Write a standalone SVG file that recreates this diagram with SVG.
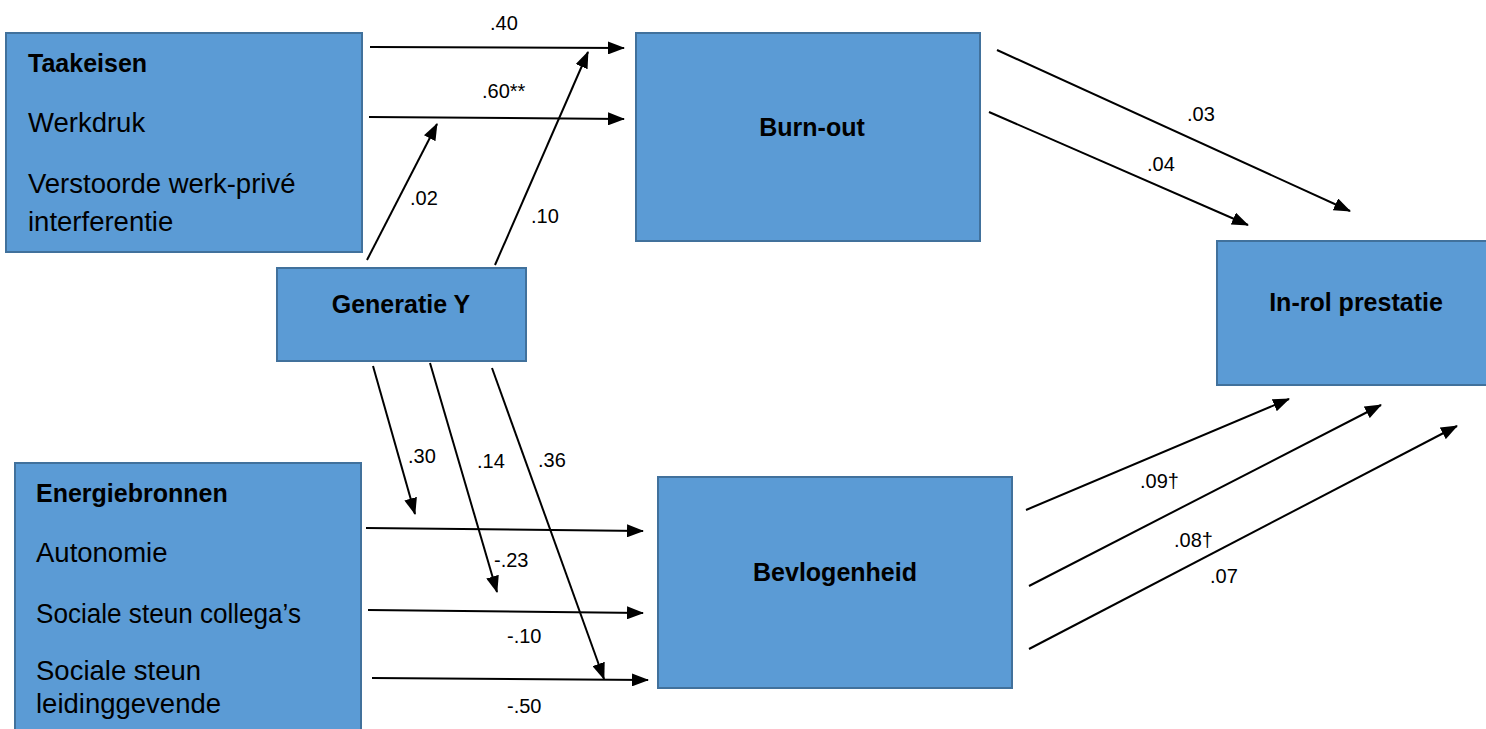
<svg xmlns="http://www.w3.org/2000/svg" width="1486" height="729" viewBox="0 0 1486 729">
<defs>
<style>
.box{fill:#5B9BD5;stroke:#41719C;stroke-width:2}
.t{font-family:"Liberation Sans",Arial,sans-serif;font-size:27.5px;fill:#000}
.b{font-family:"Liberation Sans",Arial,sans-serif;font-size:25px;font-weight:bold;fill:#000}
.c{text-anchor:middle}
.lbl{font-family:"Liberation Sans",Arial,sans-serif;font-size:20px;fill:#000}
.ar{stroke:#000;stroke-width:2;fill:none;marker-end:url(#ah)}
</style>
<marker id="ah" markerUnits="userSpaceOnUse" viewBox="0 0 17 13" refX="16" refY="6.5" markerWidth="17" markerHeight="13" orient="auto">
<path d="M0,0 L17,6.5 L0,13 z" fill="#000"/>
</marker>
</defs>
<rect width="1486" height="729" fill="#fff"/>
<g id="taakeisen">
<rect class="box" x="6" y="33" width="356" height="219"/>
<text class="b" x="28" y="72">Taakeisen</text>
<text class="t" x="28" y="132">Werkdruk</text>
<text class="t" x="28" y="193">Verstoorde werk-privé</text>
<text class="t" x="28" y="231">interferentie</text>
</g>
<g id="burnout">
<rect class="box" x="636" y="33" width="344" height="208"/>
<text class="b c" x="812" y="136">Burn-out</text>
</g>
<g id="generatieY">
<rect class="box" x="277" y="268" width="249" height="93"/>
<text class="b c" x="401" y="313">Generatie Y</text>
</g>
<g id="inrol">
<rect class="box" x="1217" y="241" width="290" height="144"/>
<text class="b c" x="1356" y="311">In-rol prestatie</text>
</g>
<g id="energiebronnen">
<rect class="box" x="15" y="463" width="346" height="290"/>
<text class="b" x="36" y="502">Energiebronnen</text>
<text class="t" x="36" y="562">Autonomie</text>
<text class="t" x="36" y="623" textLength="265" lengthAdjust="spacingAndGlyphs">Sociale steun collega’s</text>
<text class="t" x="36" y="680">Sociale steun</text>
<text class="t" x="36" y="713">leidinggevende</text>
</g>
<g id="bevlogenheid">
<rect class="box" x="658" y="477" width="354" height="211"/>
<text class="b c" x="835" y="581">Bevlogenheid</text>
</g>
<g id="connectors">
<line class="ar" x1="370" y1="47" x2="624" y2="48"/>
<line class="ar" x1="369" y1="117" x2="624" y2="119"/>
<line class="ar" x1="367" y1="260" x2="437" y2="124"/>
<line class="ar" x1="495" y1="265" x2="588" y2="52"/>
<line class="ar" x1="997" y1="50" x2="1350" y2="211"/>
<line class="ar" x1="989" y1="112" x2="1248" y2="225"/>
<line class="ar" x1="373" y1="366" x2="415" y2="514"/>
<line class="ar" x1="430" y1="363" x2="497" y2="592"/>
<line class="ar" x1="492" y1="368" x2="604" y2="679"/>
<line class="ar" x1="366" y1="528" x2="643" y2="531"/>
<line class="ar" x1="368" y1="610" x2="643" y2="613"/>
<line class="ar" x1="372" y1="678" x2="648" y2="680"/>
<line class="ar" x1="1026" y1="510" x2="1289" y2="399"/>
<line class="ar" x1="1029" y1="586" x2="1381" y2="405"/>
<line class="ar" x1="1029" y1="649" x2="1457" y2="426"/>
</g>
<g id="labels">
<text class="lbl" x="490" y="30">.40</text>
<text class="lbl" x="482" y="98">.60**</text>
<text class="lbl" x="410" y="205">.02</text>
<text class="lbl" x="531" y="223">.10</text>
<text class="lbl" x="1187" y="121">.03</text>
<text class="lbl" x="1147" y="171">.04</text>
<text class="lbl" x="408" y="463">.30</text>
<text class="lbl" x="477" y="468">.14</text>
<text class="lbl" x="538" y="467">.36</text>
<text class="lbl" x="494" y="567">-.23</text>
<text class="lbl" x="507" y="643">-.10</text>
<text class="lbl" x="507" y="713">-.50</text>
<text class="lbl" x="1140" y="488">.09†</text>
<text class="lbl" x="1174" y="547">.08†</text>
<text class="lbl" x="1210" y="583">.07</text>
</g>
</svg>
